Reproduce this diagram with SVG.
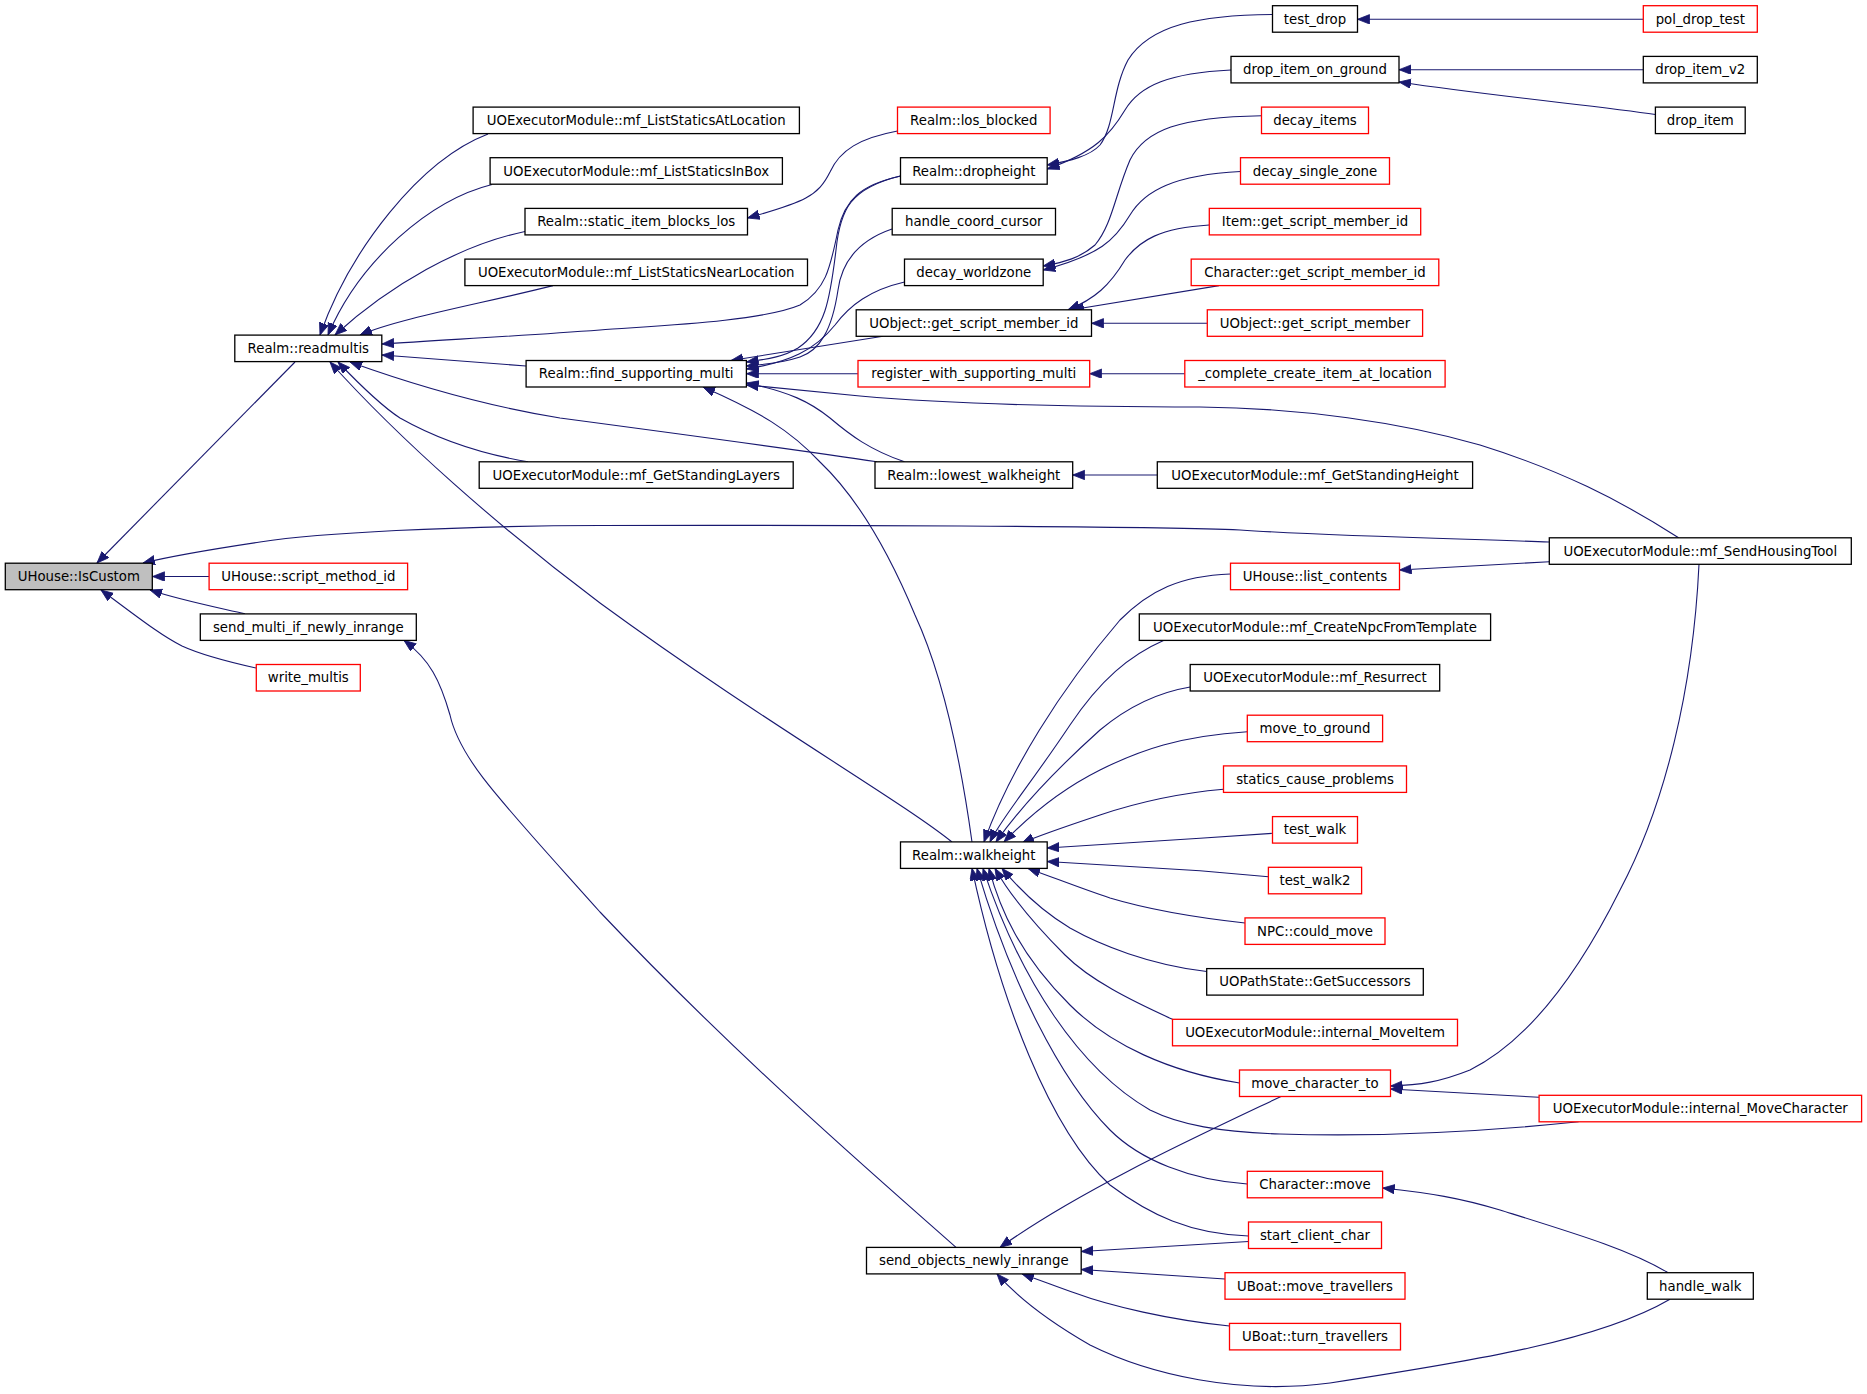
<svg xmlns="http://www.w3.org/2000/svg" width="1867" height="1394" viewBox="0 0 1867 1394">
<style>
text{font-family:"DejaVu Sans","Liberation Sans",sans-serif;font-size:13.3px;fill:#000;text-anchor:middle}
g rect{stroke-width:1.3;fill:#fff;stroke:#000}
.r rect{stroke:#f00}
.g rect{fill:#bfbfbf}
#edges path{fill:none;stroke:#191970;stroke-width:1.1;marker-end:url(#a)}
</style>
<defs>
<marker id="a" markerUnits="userSpaceOnUse" markerWidth="14" markerHeight="11" refX="12" refY="4.7" orient="auto"><path d="M0,0 L12,4.7 L0,9.4 z" fill="#191970" stroke="#191970" stroke-width="0.8"/></marker>
</defs>
<rect x="0" y="0" width="1867" height="1394" style="fill:#fff;stroke:none"/>
<g id="edges">
<path d="M295,362 L97,563"/>
<path d="M1549,542 C1470,539 1330,536 1240,530 C1150,526 800,525 600,525.5 C450,526 320,533 260,542 C220,548 180,554 143,563"/>
<path d="M209,576.5 L152.5,576.5"/>
<path d="M245,613.9 C220,608 180,600 150,590"/>
<path d="M256,668 C220,660 195,652 182,646 C160,635 135,615 101,590"/>
<path d="M488,134 C420,160 350,250 320,335"/>
<path d="M492,184.5 C430,200 360,260 328,335"/>
<path d="M525,231.5 C460,245 390,285 335,335"/>
<path d="M553,285.6 C480,304 400,318 360,335"/>
<path d="M900.5,176 C860,185 845,200 838,230 C830,270 825,290 800,305 C760,322 650,326 600,330 C520,336 440,340 382,344"/>
<path d="M526,366 L382,355"/>
<path d="M877,461.8 C800,450 650,430 560,418 C480,405 400,380 350,362"/>
<path d="M528,461.8 C470,452 430,435 400,418 C380,405 360,385 338,362"/>
<path d="M952,842 C900,800 760,720 600,603 C500,528 400,440 330,362"/>
<path d="M900.5,176 C850,188 840,210 836,250 C830,300 825,330 798,348 C785,356 770,359 746.5,362"/>
<path d="M892,229 C860,240 842,260 838,290 C832,330 820,350 800,357 C785,362 770,364 746.5,366"/>
<path d="M904.5,282 C870,290 850,305 835,325 C815,350 790,362 746.5,369"/>
<path d="M883,336.3 L731,360.5"/>
<path d="M857.9,373.7 L746.5,373.7"/>
<path d="M1678.6,537.8 C1620,500 1560,470 1480,445 C1400,422 1300,408 1200,407 C1050,407 950,404 860,396 C810,391 780,388 746.5,385"/>
<path d="M904.5,461.8 C870,450 850,435 830,418 C810,402 790,392 746.5,383"/>
<path d="M972,842 C962,770 945,680 915,615 C890,555 860,500 820,462 C790,430 760,412 703,387"/>
<path d="M897.5,131 C860,138 840,150 830,172 C818,196 805,202 747.5,218"/>
<path d="M1272.5,14.5 C1200,15 1150,25 1128,60 C1112,90 1115,125 1100,145 C1090,156 1070,161 1047.2,165"/>
<path d="M1231,70 C1170,73 1140,85 1125,110 C1110,135 1095,152 1047.2,169"/>
<path d="M1643.3,19.3 L1357.5,19.3"/>
<path d="M1643.3,69.7 L1399,69.7"/>
<path d="M1655.4,114.5 C1600,106 1500,97 1399,82"/>
<path d="M1261.5,115.7 C1180,117 1145,130 1130,160 C1115,195 1112,225 1095,245 C1080,258 1065,262 1043.2,266"/>
<path d="M1240.5,171.5 C1175,175 1145,190 1130,215 C1115,240 1100,255 1043.2,270"/>
<path d="M1209.3,225 C1160,228 1140,240 1125,260 C1110,285 1095,299 1068,309.8"/>
<path d="M1219,285.6 L1072,309.8"/>
<path d="M1207.3,323.3 L1091.5,323.3"/>
<path d="M1184.8,373.7 L1089.7,373.7"/>
<path d="M1157.3,475 L1072.7,475"/>
<path d="M1549.3,561.7 L1399.5,570"/>
<path d="M956,1247.4 C880,1180 740,1060 600,912 C500,800 460,760 450,715 C440,680 430,660 404,640.4"/>
<path d="M1230.5,574 C1180,576 1150,590 1120,620 C1060,690 1010,770 984,841.9"/>
<path d="M1163.5,640.4 C1130,655 1100,680 1070,725 C1030,785 1000,820 990,841.9"/>
<path d="M1190.2,687 C1160,692 1130,705 1100,730 C1050,775 1015,815 996,841.9"/>
<path d="M1247.3,731.7 C1180,736 1140,750 1100,770 C1060,790 1030,815 1004,841.9"/>
<path d="M1223.5,789.3 C1170,794 1130,805 1100,815 C1070,825 1040,835 1022,843"/>
<path d="M1272.5,833.3 L1200,838.3 L1047.2,848"/>
<path d="M1268.4,876.7 L1200,870.7 L1047.2,861.5"/>
<path d="M1245,923 C1200,918 1150,910 1110,898 C1080,888 1055,878 1028,868.4"/>
<path d="M1206.7,971.5 C1150,965 1100,945 1070,928 C1040,910 1020,890 1002,868.4"/>
<path d="M1172.5,1019.3 C1130,1000 1090,980 1065,955 C1035,925 1010,895 995,868.4"/>
<path d="M1239.5,1083 C1170,1072 1110,1045 1070,1005 C1020,955 1000,910 989,868.4"/>
<path d="M1578.6,1121.8 C1480,1132 1380,1137 1280,1134 C1220,1132 1180,1125 1150,1110 C1080,1070 1020,980 983,868.4"/>
<path d="M1247.3,1184 C1190,1180 1140,1160 1110,1130 C1060,1080 1010,980 977,868.4"/>
<path d="M1248.5,1236 C1190,1234 1150,1215 1110,1185 C1050,1130 1000,1000 972,868.4"/>
<path d="M1281,1096.5 C1200,1135 1080,1190 1000,1247.4"/>
<path d="M1248.5,1241.5 L1081.2,1251.5"/>
<path d="M1225,1279 L1081.2,1269.5"/>
<path d="M1229.5,1326 C1170,1320 1110,1306 1075,1293 C1055,1286 1040,1280 1022,1273.9"/>
<path d="M1670,1299.2 C1600,1340 1480,1360 1330,1383 C1240,1395 1150,1375 1090,1345 C1050,1322 1020,1300 997,1273.9"/>
<path d="M1668,1272.7 C1630,1250 1580,1235 1500,1210 C1460,1198 1430,1193 1382.7,1188"/>
<path d="M1699,564.3 C1693,690 1665,805 1620,890 C1580,970 1530,1040 1470,1070 C1440,1082 1420,1085 1390.5,1086"/>
<path d="M1539,1097.3 L1390.5,1089"/>
</g>
<g id="n_IsCustom" class="g"><rect x="5.3" y="563.2" width="147" height="26.5"/><text x="78.8" y="581">UHouse::IsCustom</text></g>
<g id="n_readmultis"><rect x="234.8" y="335.1" width="147" height="26.5"/><text x="308.3" y="352.9">Realm::readmultis</text></g>
<g id="n_script_method_id" class="r"><rect x="209.1" y="563.2" width="198.5" height="26.5"/><text x="308.3" y="581">UHouse::script_method_id</text></g>
<g id="n_send_multi"><rect x="200.3" y="613.9" width="216" height="26.5"/><text x="308.3" y="631.7">send_multi_if_newly_inrange</text></g>
<g id="n_write_multis" class="r"><rect x="256.3" y="664.5" width="104" height="26.5"/><text x="308.3" y="682.3">write_multis</text></g>
<g id="n_ListStaticsAtLocation"><rect x="473.1" y="107.1" width="326.3" height="26.5"/><text x="636.2" y="124.9">UOExecutorModule::mf_ListStaticsAtLocation</text></g>
<g id="n_ListStaticsInBox"><rect x="490.1" y="157.7" width="292.3" height="26.5"/><text x="636.2" y="175.5">UOExecutorModule::mf_ListStaticsInBox</text></g>
<g id="n_static_item_blocks_los"><rect x="525" y="208.4" width="222.5" height="26.5"/><text x="636.2" y="226.2">Realm::static_item_blocks_los</text></g>
<g id="n_ListStaticsNearLocation"><rect x="464.9" y="259.1" width="342.6" height="26.5"/><text x="636.2" y="276.9">UOExecutorModule::mf_ListStaticsNearLocation</text></g>
<g id="n_find_supporting_multi"><rect x="526.1" y="360.5" width="220.3" height="26.5"/><text x="636.2" y="378.3">Realm::find_supporting_multi</text></g>
<g id="n_GetStandingLayers"><rect x="479.2" y="461.8" width="314" height="26.5"/><text x="636.2" y="479.6">UOExecutorModule::mf_GetStandingLayers</text></g>
<g id="n_walkheight"><rect x="900.5" y="841.9" width="146.7" height="26.5"/><text x="973.8" y="859.7">Realm::walkheight</text></g>
<g id="n_send_objects_newly_inrange"><rect x="866.5" y="1247.4" width="214.7" height="26.5"/><text x="973.8" y="1265.2">send_objects_newly_inrange</text></g>
<g id="n_los_blocked" class="r"><rect x="897.5" y="107.1" width="152.6" height="26.5"/><text x="973.8" y="124.9">Realm::los_blocked</text></g>
<g id="n_dropheight"><rect x="900.5" y="157.7" width="146.7" height="26.5"/><text x="973.8" y="175.5">Realm::dropheight</text></g>
<g id="n_handle_coord_cursor"><rect x="892.2" y="208.4" width="163.3" height="26.5"/><text x="973.8" y="226.2">handle_coord_cursor</text></g>
<g id="n_decay_worldzone"><rect x="904.5" y="259.1" width="138.7" height="26.5"/><text x="973.8" y="276.9">decay_worldzone</text></g>
<g id="n_UObject_get_script_member_id"><rect x="856.2" y="309.8" width="235.3" height="26.5"/><text x="973.8" y="327.6">UObject::get_script_member_id</text></g>
<g id="n_register_with_supporting_multi" class="r"><rect x="858" y="360.5" width="231.7" height="26.5"/><text x="973.8" y="378.3">register_with_supporting_multi</text></g>
<g id="n_lowest_walkheight"><rect x="875" y="461.8" width="197.7" height="26.5"/><text x="973.8" y="479.6">Realm::lowest_walkheight</text></g>
<g id="n_test_drop"><rect x="1272.5" y="5.7" width="85" height="26.5"/><text x="1315" y="23.5">test_drop</text></g>
<g id="n_drop_item_on_ground"><rect x="1231" y="56.4" width="168" height="26.5"/><text x="1315" y="74.2">drop_item_on_ground</text></g>
<g id="n_decay_items" class="r"><rect x="1261.5" y="107.1" width="107" height="26.5"/><text x="1315" y="124.9">decay_items</text></g>
<g id="n_decay_single_zone" class="r"><rect x="1240.5" y="157.7" width="149" height="26.5"/><text x="1315" y="175.5">decay_single_zone</text></g>
<g id="n_Item_get_script_member_id" class="r"><rect x="1209.3" y="208.4" width="211.4" height="26.5"/><text x="1315" y="226.2">Item::get_script_member_id</text></g>
<g id="n_Character_get_script_member_id" class="r"><rect x="1191.2" y="259.1" width="247.6" height="26.5"/><text x="1315" y="276.9">Character::get_script_member_id</text></g>
<g id="n_UObject_get_script_member" class="r"><rect x="1207.3" y="309.8" width="215.3" height="26.5"/><text x="1315" y="327.6">UObject::get_script_member</text></g>
<g id="n_complete_create_item_at_location" class="r"><rect x="1184.8" y="360.5" width="260.3" height="26.5"/><text x="1315" y="378.3">_complete_create_item_at_location</text></g>
<g id="n_GetStandingHeight"><rect x="1157.3" y="461.8" width="315.3" height="26.5"/><text x="1315" y="479.6">UOExecutorModule::mf_GetStandingHeight</text></g>
<g id="n_list_contents" class="r"><rect x="1230.5" y="563.2" width="169" height="26.5"/><text x="1315" y="581">UHouse::list_contents</text></g>
<g id="n_CreateNpcFromTemplate"><rect x="1139.3" y="613.9" width="351.3" height="26.5"/><text x="1315" y="631.7">UOExecutorModule::mf_CreateNpcFromTemplate</text></g>
<g id="n_Resurrect"><rect x="1190.2" y="664.5" width="249.5" height="26.5"/><text x="1315" y="682.3">UOExecutorModule::mf_Resurrect</text></g>
<g id="n_move_to_ground" class="r"><rect x="1247.3" y="715.2" width="135.3" height="26.5"/><text x="1315" y="733">move_to_ground</text></g>
<g id="n_statics_cause_problems" class="r"><rect x="1223.5" y="765.9" width="183" height="26.5"/><text x="1315" y="783.7">statics_cause_problems</text></g>
<g id="n_test_walk" class="r"><rect x="1272.5" y="816.6" width="85" height="26.5"/><text x="1315" y="834.4">test_walk</text></g>
<g id="n_test_walk2" class="r"><rect x="1268.4" y="867.3" width="93.2" height="26.5"/><text x="1315" y="885.1">test_walk2</text></g>
<g id="n_NPC_could_move" class="r"><rect x="1245" y="917.9" width="140" height="26.5"/><text x="1315" y="935.7">NPC::could_move</text></g>
<g id="n_GetSuccessors"><rect x="1206.7" y="968.6" width="216.6" height="26.5"/><text x="1315" y="986.4">UOPathState::GetSuccessors</text></g>
<g id="n_internal_MoveItem" class="r"><rect x="1172.5" y="1019.3" width="285" height="26.5"/><text x="1315" y="1037.1">UOExecutorModule::internal_MoveItem</text></g>
<g id="n_move_character_to" class="r"><rect x="1239.5" y="1070" width="151" height="26.5"/><text x="1315" y="1087.8">move_character_to</text></g>
<g id="n_Character_move" class="r"><rect x="1247.3" y="1171.3" width="135.3" height="26.5"/><text x="1315" y="1189.1">Character::move</text></g>
<g id="n_start_client_char" class="r"><rect x="1248.5" y="1222" width="133" height="26.5"/><text x="1315" y="1239.8">start_client_char</text></g>
<g id="n_move_travellers" class="r"><rect x="1225" y="1272.7" width="180" height="26.5"/><text x="1315" y="1290.5">UBoat::move_travellers</text></g>
<g id="n_turn_travellers" class="r"><rect x="1229.5" y="1323.4" width="171" height="26.5"/><text x="1315" y="1341.2">UBoat::turn_travellers</text></g>
<g id="n_pol_drop_test" class="r"><rect x="1643.3" y="5.7" width="114" height="26.5"/><text x="1700.3" y="23.5">pol_drop_test</text></g>
<g id="n_drop_item_v2"><rect x="1643.3" y="56.4" width="114" height="26.5"/><text x="1700.3" y="74.2">drop_item_v2</text></g>
<g id="n_drop_item"><rect x="1655.4" y="107.1" width="89.8" height="26.5"/><text x="1700.3" y="124.9">drop_item</text></g>
<g id="n_SendHousingTool"><rect x="1549.3" y="537.8" width="302" height="26.5"/><text x="1700.3" y="555.6">UOExecutorModule::mf_SendHousingTool</text></g>
<g id="n_internal_MoveCharacter" class="r"><rect x="1539.1" y="1095.3" width="322.5" height="26.5"/><text x="1700.3" y="1113.1">UOExecutorModule::internal_MoveCharacter</text></g>
<g id="n_handle_walk"><rect x="1647.3" y="1272.7" width="106" height="26.5"/><text x="1700.3" y="1290.5">handle_walk</text></g>
</svg>
